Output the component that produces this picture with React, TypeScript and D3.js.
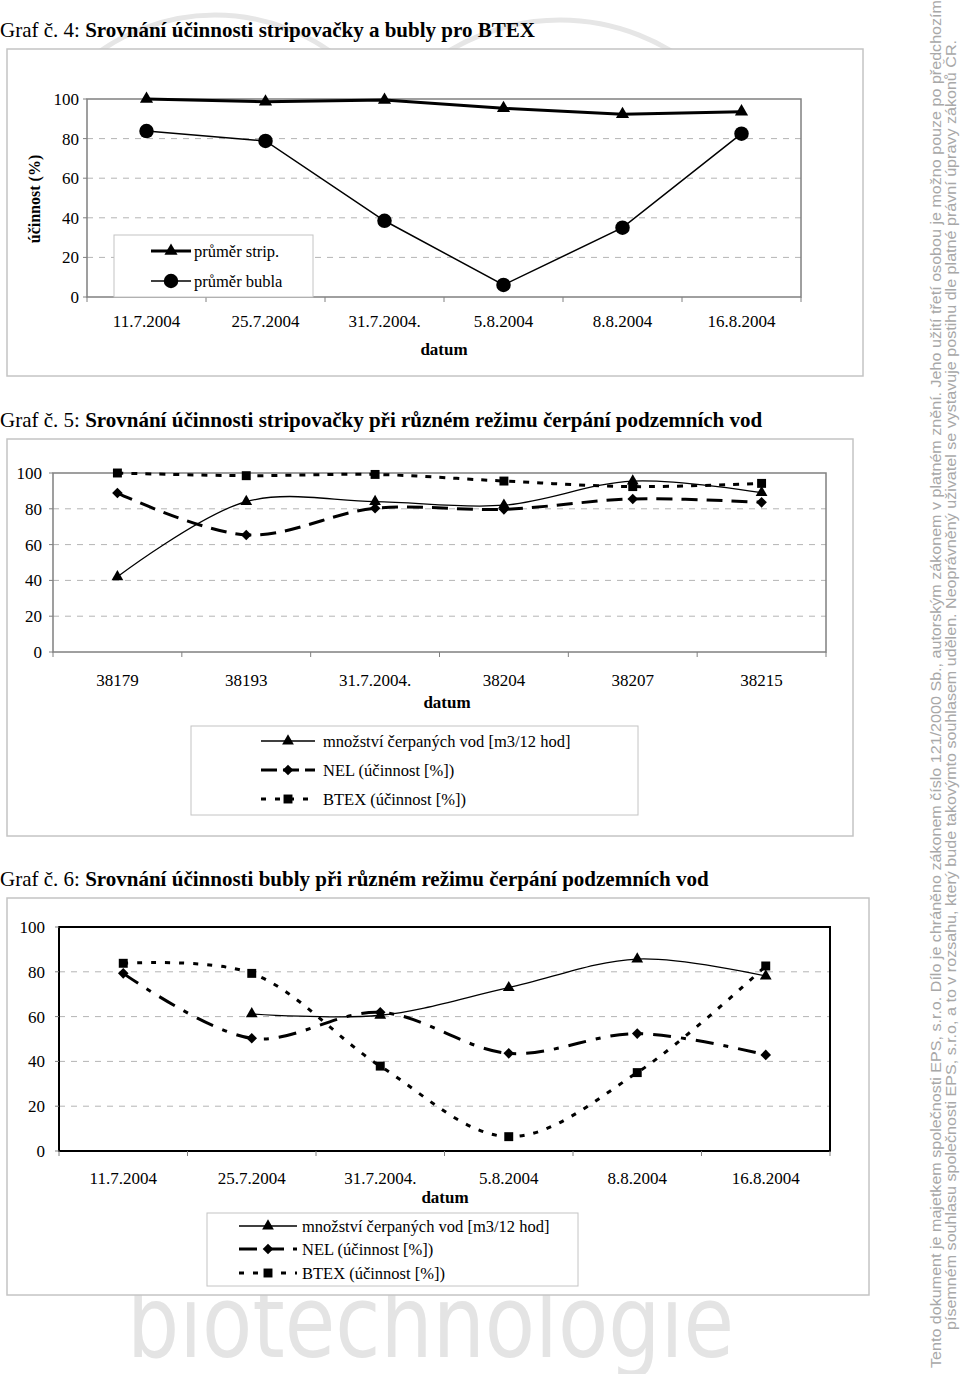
import React, { useEffect, useRef } from 'react'
import * as d3 from 'd3'

// --- data ---
const dates = ['11.7.2004', '25.7.2004', '31.7.2004.', '5.8.2004', '8.8.2004', '16.8.2004']
const serialDates = ['38179', '38193', '31.7.2004.', '38204', '38207', '38215']

// Graf 4
const stripAvg = [100, 98.6, 99.5, 95.3, 92.3, 93.6]
const bublaAvg = [83.8, 78.8, 38.5, 6.1, 35, 82.5]

// Graf 5 (stripovačka)
const stripPumped = [42, 84, 84, 82, 95.5, 89]
const stripNel = [88.8, 65.4, 80.3, 79.7, 85.5, 83.6]
const stripBtex = [100, 98.5, 99.2, 95.5, 92.4, 94.2]

// Graf 6 (bubla)
const bublaPumped = [null, 61.2, 60.6, 72.9, 85.7, 78.1]
const bublaNel = [79.3, 50.3, 61.9, 43.6, 52.4, 42.9]
const bublaBtex = [83.8, 79.3, 37.9, 6.4, 35, 82.6]

const yTicks = [0, 20, 40, 60, 80, 100]

const SERIF = '"Liberation Serif", "Times New Roman", serif'
const SANS = '"Liberation Sans", Arial, sans-serif'

type Series = {
  name: string
  values: (number | null)[]
  width: number
  dash?: string
  legendDash?: string
  symbol: d3.SymbolType
  size: number
  rotate?: number
}

type ChartCfg = {
  title: string
  titleY: number
  categories: string[]
  series: Series[]
  smooth: boolean
  frame: [number, number, number, number]
  plot: [number, number, number, number]
  plotStroke: string
  plotStrokeWidth: number
  yLabelGap: number
  yFont: number
  xLabelY: number
  datumX: number
  datumY: number
  yTitle?: { x: number, y: number }
  legend: { box: [number, number, number, number], rows: number[], x0: number, x1: number, textX: number, fontSize: number }
}

function drawChart(root: d3.Selection<SVGGElement, unknown, null, undefined>, cfg: ChartCfg) {
  const g = root.append('g')
  const [fx, fy, fw, fh] = cfg.frame
  const [px, py, pw, ph] = cfg.plot

  // title
  const t = g.append('text').attr('x', 0).attr('y', cfg.titleY)
    .style('font-family', SERIF).style('font-size', '21px').attr('fill', '#000')
  const idx = cfg.title.indexOf(':') + 1
  t.append('tspan').text(cfg.title.slice(0, idx) + ' ')
  t.append('tspan').attr('font-weight', 'bold').text(cfg.title.slice(idx).trim())

  g.append('rect').attr('x', fx).attr('y', fy).attr('width', fw).attr('height', fh)
    .attr('fill', '#fff').attr('stroke', '#c4c4c4').attr('stroke-width', 1.5)

  const x = d3.scaleBand<string>().domain(cfg.categories).range([px, px + pw])
  const y = d3.scaleLinear().domain([0, 100]).range([py + ph, py])

  // grid
  g.append('g').selectAll('line').data(yTicks.filter(v => v > 0 && v < 100)).enter().append('line')
    .attr('x1', px).attr('x2', px + pw).attr('y1', d => y(d)).attr('y2', d => y(d))
    .attr('stroke', '#b4b4b4').attr('stroke-width', 1).attr('stroke-dasharray', '6,6')

  g.append('rect').attr('x', px).attr('y', py).attr('width', pw).attr('height', ph)
    .attr('fill', 'none').attr('stroke', cfg.plotStroke).attr('stroke-width', cfg.plotStrokeWidth)

  // y ticks & labels
  const yl = g.append('g')
  yl.selectAll('line').data(yTicks).enter().append('line')
    .attr('x1', px - 4).attr('x2', px).attr('y1', d => y(d)).attr('y2', d => y(d))
    .attr('stroke', '#808080')
  yl.selectAll('text').data(yTicks).enter().append('text')
    .attr('x', px - cfg.yLabelGap).attr('y', d => y(d)).attr('dy', '0.35em')
    .attr('text-anchor', 'end').style('font-family', SERIF).style('font-size', `${cfg.yFont}px`)
    .text(d => d)

  // x ticks at band edges & labels
  const edges = cfg.categories.map(c => x(c)!).concat([px + pw])
  g.append('g').selectAll('line').data(edges).enter().append('line')
    .attr('x1', d => d).attr('x2', d => d).attr('y1', py + ph).attr('y2', py + ph + 5)
    .attr('stroke', '#808080')
  g.append('g').selectAll('text').data(cfg.categories).enter().append('text')
    .attr('x', d => x(d)! + x.bandwidth() / 2).attr('y', cfg.xLabelY)
    .attr('text-anchor', 'middle').style('font-family', SERIF).style('font-size', '17px')
    .text(d => d)

  g.append('text').attr('x', cfg.datumX).attr('y', cfg.datumY).attr('text-anchor', 'middle')
    .style('font-family', SERIF).style('font-size', '17px').attr('font-weight', 'bold').text('datum')

  if (cfg.yTitle) {
    g.append('text').attr('transform', `translate(${cfg.yTitle.x},${cfg.yTitle.y}) rotate(-90)`)
      .attr('text-anchor', 'middle').style('font-family', SERIF).style('font-size', '16px')
      .attr('font-weight', 'bold').text('účinnost (%)')
  }

  const cx = (i: number) => x(cfg.categories[i])! + x.bandwidth() / 2
  const line = d3.line<number | null>()
    .defined(d => d != null)
    .x((_, i) => cx(i))
    .y(d => y(d as number))
    .curve(cfg.smooth ? d3.curveCatmullRom.alpha(0.5) : d3.curveLinear)

  cfg.series.forEach(s => {
    g.append('path').datum(s.values).attr('d', line).attr('fill', 'none')
      .attr('stroke', '#000').attr('stroke-width', s.width)
      .attr('stroke-dasharray', s.dash ?? null)
    g.append('g').selectAll('path')
      .data(s.values.map((v, i) => ({ v, i })).filter(d => d.v != null)).enter().append('path')
      .attr('d', d3.symbol().type(s.symbol).size(s.size)())
      .attr('transform', d => `translate(${cx(d.i)},${y(d.v as number)}) rotate(${s.rotate ?? 0})`)
      .attr('fill', '#000')
  })

  // legend
  const L = cfg.legend
  const [lx, ly, lw, lh] = L.box
  const lg = g.append('g')
  lg.append('rect').attr('x', lx).attr('y', ly).attr('width', lw).attr('height', lh)
    .attr('fill', '#fff').attr('stroke', '#c4c4c4').attr('stroke-width', 1)
  cfg.series.forEach((s, i) => {
    const ry = L.rows[i]
    lg.append('line').attr('x1', L.x0).attr('x2', L.x1).attr('y1', ry).attr('y2', ry)
      .attr('stroke', '#000').attr('stroke-width', s.width)
      .attr('stroke-dasharray', s.legendDash ?? s.dash ?? null)
    lg.append('path').attr('d', d3.symbol().type(s.symbol).size(s.size)())
      .attr('transform', `translate(${(L.x0 + L.x1) / 2},${ry}) rotate(${s.rotate ?? 0})`)
    lg.append('text').attr('x', L.textX).attr('y', ry).attr('dy', '0.35em')
      .style('font-family', SERIF).style('font-size', `${L.fontSize}px`).text(s.name)
  })
}

const App: React.FC = () => {
  const svgRef = useRef<SVGSVGElement>(null)

  useEffect(() => {
    if (!svgRef.current) return
    const svg = d3.select(svgRef.current)
    svg.selectAll('*').remove()
    const root = svg.append('g')

    root.append('rect').attr('width', 960).attr('height', 1374).attr('fill', '#fff')

    // watermarks (behind the charts)
    svg.append('defs').append('clipPath').attr('id', 'topClip')
      .append('rect').attr('x', 0).attr('y', 0).attr('width', 900).attr('height', 49)
    const wmArcs = [
      { cx: 215, cy: 215, r: 200 },
      { cx: 560, cy: 235, r: 215 },
    ]
    root.append('g').attr('clip-path', 'url(#topClip)').selectAll('circle').data(wmArcs).enter().append('circle')
      .attr('cx', d => d.cx).attr('cy', d => d.cy).attr('r', d => d.r)
      .attr('fill', 'none').attr('stroke', '#e6e6e6').attr('stroke-width', 5)
    root.append('text').attr('x', 127).attr('y', 1357).attr('textLength', 607)
      .attr('lengthAdjust', 'spacingAndGlyphs')
      .style('font-family', '"DejaVu Sans", sans-serif').style('font-size', '100px')
      .attr('fill', '#e4e4e4').text('biotechnologie')
    const wm = [
      { x: 941, y0: 1368, len: 1368, text: 'Tento dokument je majetkem společnosti EPS, s.r.o. Dílo je chráněno zákonem číslo 121/2000 Sb., autorským zákonem v platném znění. Jeho užití třetí osobou je možno pouze po předchozím' },
      { x: 956, y0: 1330, len: 1290, text: 'písemném souhlasu společnosti EPS, s.r.o, a to v rozsahu, který bude takovýmto souhlasem udělen. Neoprávněný uživatel se vystavuje postihu dle platné právní úpravy zákonů ČR.' },
    ]
    wm.forEach(w => {
      root.append('text').attr('transform', `translate(${w.x},${w.y0}) rotate(-90)`)
        .attr('textLength', w.len).attr('lengthAdjust', 'spacingAndGlyphs')
        .style('font-family', SANS).style('font-size', '14px').attr('fill', '#a8a8a8').text(w.text)
    })

    const tri = d3.symbolTriangle
    const sq = d3.symbolSquare

    drawChart(root, {
      title: 'Graf č. 4: Srovnání účinnosti stripovačky a bubly pro BTEX',
      titleY: 37,
      categories: dates,
      series: [
        { name: 'průměr strip.', values: stripAvg, width: 3, symbol: tri, size: 75 },
        { name: 'průměr bubla', values: bublaAvg, width: 1.5, symbol: d3.symbolCircle, size: 165 },
      ],
      smooth: false,
      frame: [7, 49, 856, 327],
      plot: [87, 99, 714, 198],
      plotStroke: '#808080',
      plotStrokeWidth: 1.5,
      yLabelGap: 8,
      yFont: 17,
      xLabelY: 327,
      datumX: 444,
      datumY: 355,
      yTitle: { x: 40, y: 199 },
      legend: { box: [114, 235, 199, 62], rows: [251, 281], x0: 151, x1: 191, textX: 194, fontSize: 16.5 },
    })

    drawChart(root, {
      title: 'Graf č. 5: Srovnání účinnosti stripovačky při různém režimu čerpání podzemních vod',
      titleY: 427,
      categories: serialDates,
      series: [
        { name: 'množství čerpaných vod [m3/12 hod]', values: stripPumped, width: 1.3, symbol: tri, size: 60 },
        { name: 'NEL (účinnost [%])', values: stripNel, width: 3, dash: '16,9', legendDash: '16,6', symbol: sq, size: 56, rotate: 45 },
        { name: 'BTEX (účinnost [%])', values: stripBtex, width: 3, dash: '6,8', legendDash: '5,9', symbol: sq, size: 80 },
      ],
      smooth: true,
      frame: [7, 439, 846, 397],
      plot: [53, 473, 773, 179],
      plotStroke: '#808080',
      plotStrokeWidth: 1.5,
      yLabelGap: 11,
      yFont: 17,
      xLabelY: 686,
      datumX: 447,
      datumY: 708,
      legend: { box: [191, 726, 447, 89], rows: [741, 770, 799], x0: 261, x1: 315, textX: 323, fontSize: 16.5 },
    })

    drawChart(root, {
      title: 'Graf č. 6: Srovnání účinnosti bubly při různém režimu čerpání podzemních vod',
      titleY: 886,
      categories: dates,
      series: [
        { name: 'množství čerpaných vod [m3/12 hod]', values: bublaPumped, width: 1.3, symbol: tri, size: 60 },
        { name: 'NEL (účinnost [%])', values: bublaNel, width: 3, dash: '18,10,5,10', legendDash: '18,9', symbol: sq, size: 56, rotate: 45 },
        { name: 'BTEX (účinnost [%])', values: bublaBtex, width: 3, dash: '5,9', symbol: sq, size: 80 },
      ],
      smooth: true,
      frame: [7, 898, 862, 397],
      plot: [59, 927, 771, 224],
      plotStroke: '#000',
      plotStrokeWidth: 2,
      yLabelGap: 14,
      yFont: 17,
      xLabelY: 1184,
      datumX: 445,
      datumY: 1203,
      legend: { box: [207, 1213, 371, 73], rows: [1226, 1249, 1273], x0: 239, x1: 297, textX: 302, fontSize: 16.5 },
    })
  }, [])

  return <svg ref={svgRef} width={960} height={1374} style={{ position: 'absolute', left: 0, top: 0 }} />
}

export default App
